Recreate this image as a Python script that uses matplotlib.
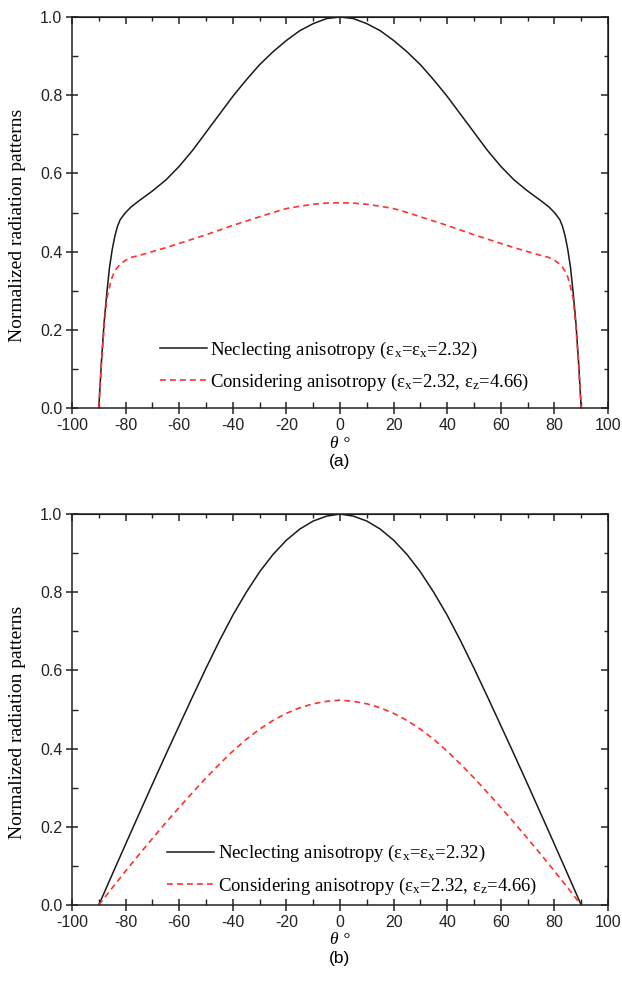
import numpy as np
import matplotlib
matplotlib.use("Agg")
import matplotlib.pyplot as plt
from matplotlib.ticker import MultipleLocator

plt.rcParams['mathtext.fontset'] = 'custom'
plt.rcParams['mathtext.rm'] = 'Liberation Serif'
plt.rcParams['mathtext.it'] = 'Liberation Serif:italic'

# ---------------- data (panel a) ----------------
theta_a_half = [0, 5, 10, 15, 20, 25, 30, 35, 40, 45, 50, 55, 60, 65, 70, 75, 78,
                80, 82, 83, 84, 85, 86, 87, 88, 89, 90]
neglect_a_half = [1.0, 0.996, 0.983, 0.965, 0.94, 0.911, 0.878, 0.839, 0.797, 0.751,
                  0.705, 0.659, 0.618, 0.583, 0.555, 0.53, 0.514, 0.50, 0.482,
                  0.465, 0.44, 0.405, 0.36, 0.295, 0.22, 0.12, 0.0]
consider_a_half = [0.525, 0.524, 0.521, 0.516, 0.51, 0.50, 0.489, 0.478, 0.467,
                   0.455, 0.443, 0.432, 0.421, 0.41, 0.40, 0.39, 0.385, 0.378,
                   0.368, 0.36, 0.35, 0.335, 0.31, 0.28, 0.21, 0.115, 0.0]

# ---------------- data (panel b) ----------------
theta_b_half = [0, 5, 10, 15, 20, 25, 30, 35, 40, 45, 50, 55, 60, 65, 70, 75, 80, 85, 90]
neglect_b_half = [1.0, 0.9945, 0.982, 0.9615, 0.933, 0.8965, 0.852, 0.7995, 0.741,
                  0.6755, 0.6055, 0.533, 0.459, 0.3845, 0.309, 0.2325, 0.1555, 0.078, 0.0]
consider_b_half = [0.524, 0.5208, 0.5146, 0.5044, 0.4902, 0.472, 0.4498, 0.4236,
                   0.3934, 0.3602, 0.325, 0.2878, 0.2496, 0.2104, 0.1702, 0.129,
                   0.0868, 0.0436, 0.0]

def mirror(t, v):
    t = np.asarray(t, float); v = np.asarray(v, float)
    return np.concatenate([-t[:0:-1], t]), np.concatenate([v[:0:-1], v])

x_ticks = [-100, -80, -60, -40, -20, 0, 20, 40, 60, 80, 100]
y_ticks = [0.0, 0.2, 0.4, 0.6, 0.8, 1.0]

label_neglect = 'Neclecting anisotropy (ε$_\\mathregular{x}$=ε$_\\mathregular{x}$=2.32)'
label_consider = 'Considering anisotropy (ε$_\\mathregular{x}$=2.32, ε$_\\mathregular{z}$=4.66)'

fig = plt.figure(figsize=(6.22, 9.81), dpi=100)
W, H = 622, 981

def make_axes(top_px, bottom_px):
    left, right = 72, 608
    return fig.add_axes([left / W, 1 - bottom_px / H, (right - left) / W,
                         (bottom_px - top_px) / H])

ax_a = make_axes(17, 408)
ax_b = make_axes(514, 905)

sans = 'Liberation Sans'
serif = 'Liberation Serif'
black = '#1a1a1a'
red = '#ff3030'
axc = '#222222'

panels = [
    (ax_a, theta_a_half, neglect_a_half, consider_a_half, '(a)', (0.164, 0.107), 0.15),
    (ax_b, theta_b_half, neglect_b_half, consider_b_half, '(b)', (0.177, 0.09), 0.22),
]

for ax, th, ng, cs, tag, legpos, pad in panels:
    t1, v1 = mirror(th, ng)
    t2, v2 = mirror(th, cs)
    ax.plot(t1, v1, color=black, lw=1.1, label=label_neglect)
    ax.plot(t2, v2, color=red, lw=1.2, ls=(0, (3.5, 2.5)), label=label_consider)
    ax.set_xlim(-100, 100)
    ax.set_ylim(0, 1.0)
    ax.set_xticks(x_ticks)
    ax.set_yticks(y_ticks)
    ax.set_xticklabels([str(v) for v in x_ticks])
    ax.set_yticklabels([f'{v:.1f}' for v in y_ticks])
    ax.xaxis.set_minor_locator(MultipleLocator(10))
    ax.yaxis.set_minor_locator(MultipleLocator(0.1))
    ax.tick_params(which='major', direction='inout', length=8, width=1.1,
                   labelsize=11.5, pad=3, colors=axc)
    ax.tick_params(which='minor', direction='in', length=4, width=1.0, colors=axc)
    for lab in ax.get_xticklabels() + ax.get_yticklabels():
        lab.set_fontfamily(sans)
    for sp in ax.spines.values():
        sp.set_linewidth(1.1)
        sp.set_color(axc)
    # top / right ticks pointing inward
    sx = ax.secondary_xaxis('top')
    sx.set_xticks(x_ticks)
    sx.xaxis.set_minor_locator(MultipleLocator(10))
    sx.tick_params(which='major', direction='in', length=5, width=1.1, labeltop=False, colors=axc)
    sx.tick_params(which='minor', direction='in', length=3, width=1.0, colors=axc)
    sy = ax.secondary_yaxis('right')
    sy.set_yticks(y_ticks)
    sy.yaxis.set_minor_locator(MultipleLocator(0.1))
    sy.tick_params(which='major', direction='in', length=5, width=1.1, labelright=False, colors=axc)
    sy.tick_params(which='minor', direction='in', length=3, width=1.0, colors=axc)

    ax.set_ylabel('Normalized radiation patterns', fontfamily=serif, fontsize=14)
    ax.yaxis.set_label_coords(-0.086, 0.467)
    ax.set_xlabel('θ °', fontfamily=serif, fontstyle='italic', fontsize=12.5, labelpad=2)
    ax.text(0.5, -0.138, tag, transform=ax.transAxes, ha='center', va='center',
            fontfamily=sans, fontsize=12.5)
    ax.legend(loc='center left', bbox_to_anchor=legpos, frameon=False,
              prop={'family': serif, 'size': 13.5}, handlelength=2.5,
              handletextpad=pad, labelspacing=0.6, borderaxespad=0,
              borderpad=0)

fig.savefig('out.png', dpi=100)
